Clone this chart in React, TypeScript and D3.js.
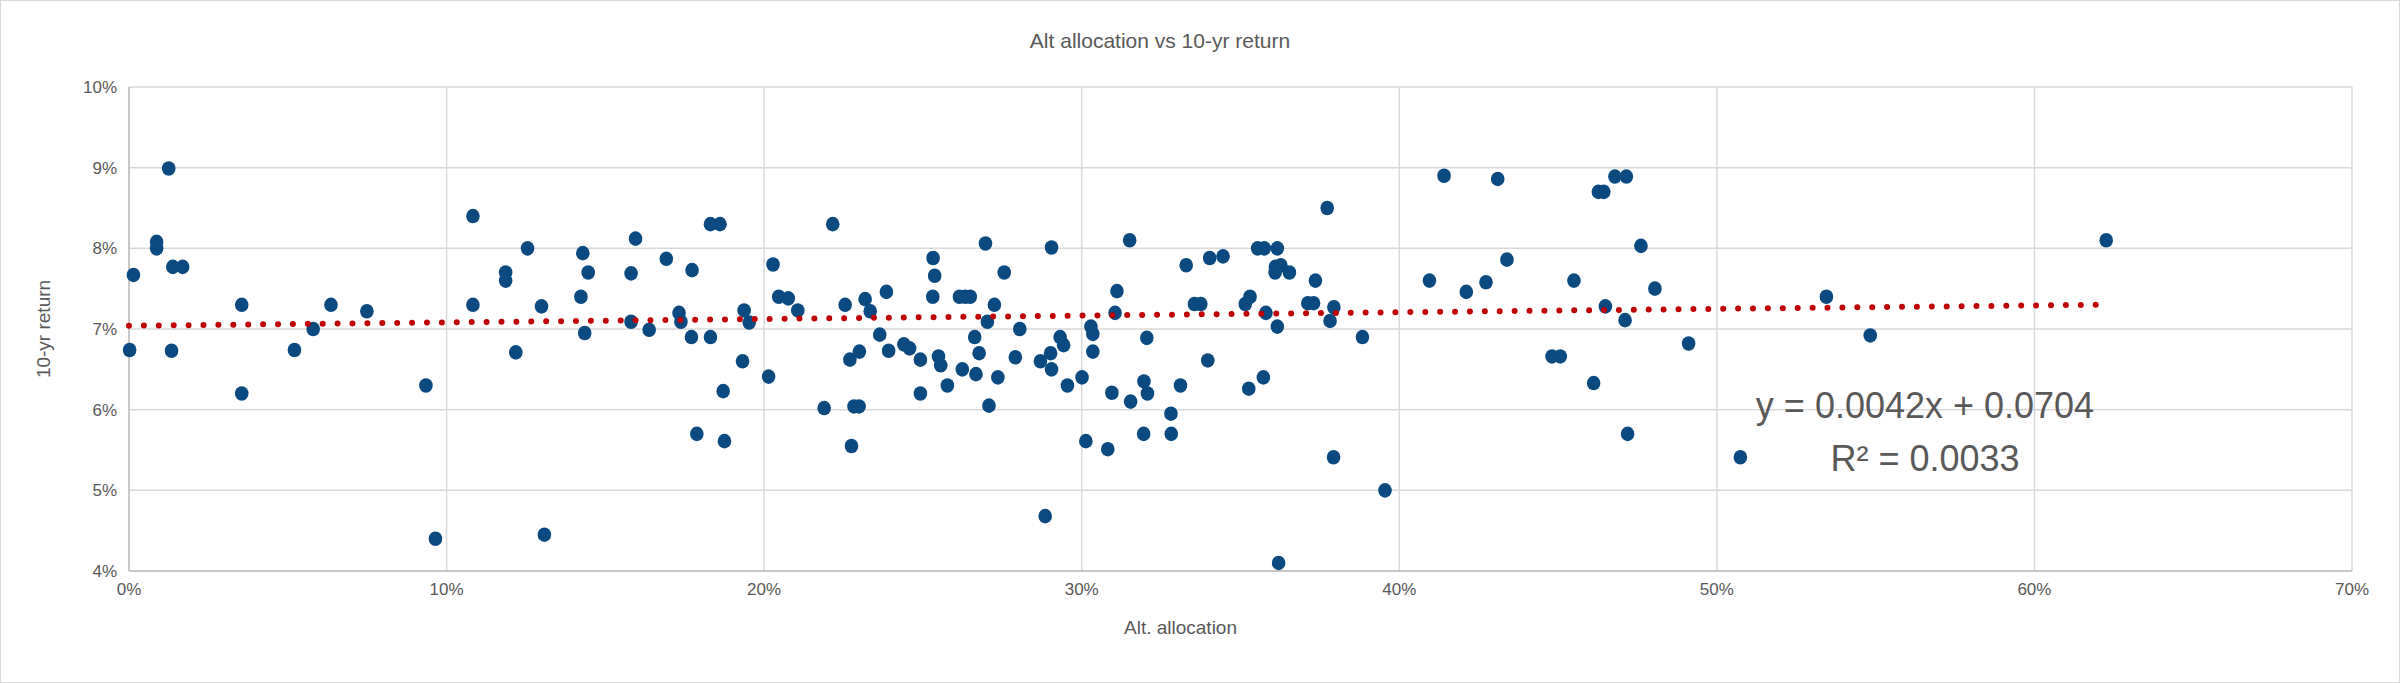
import React from "react";
import * as d3 from "d3";

const allocPct = [
  1.25, 0.87, 0.87, 0.14, 1.38, 1.69, 0.02, 1.34, 3.55, 3.55, 5.21, 5.8, 6.36, 7.49, 9.35, 9.65,
  10.83, 10.83, 11.86, 11.86, 12.55, 12.18, 12.99, 13.08, 14.29, 14.46, 14.23, 14.35, 15.95, 15.81,
  15.81, 16.38, 16.92, 17.73, 17.32, 17.38, 17.71, 17.88,
  18.31, 18.61, 18.31, 18.71, 18.75, 19.37, 19.53, 19.32, 20.14, 20.28, 20.46, 20.76, 21.06, 21.89,
  22.16, 22.55, 22.7, 23.0, 23.18, 23.34, 22.75, 22.83, 22.99, 23.85, 23.64, 23.92, 24.4, 24.58,
  24.92, 24.92, 25.32, 25.37, 25.31, 25.49, 25.56, 25.77, 26.24, 26.15, 26.33, 26.49, 26.63, 26.77,
  26.67, 27.03, 27.25, 26.97, 27.56, 27.36, 27.08, 28.05, 27.91, 28.7, 29.02, 29.05, 29.05, 28.85,
  29.32, 29.43, 29.55, 30.01, 30.29, 30.35, 30.35, 30.13, 30.82, 30.95, 31.11, 31.05, 31.51, 31.54,
  32.05, 31.96, 32.07, 31.95, 32.81, 32.82, 33.11, 33.29, 33.55, 33.75, 33.97, 34.03, 34.45, 35.15,
  35.3, 35.26, 35.72, 35.54, 35.75, 36.16, 36.1, 36.09, 35.8, 36.16, 36.2, 36.27, 36.54,
  37.36, 37.73, 37.12, 37.3, 37.94, 37.82, 37.93, 38.84, 39.55, 40.95, 41.41, 42.11, 42.73, 43.1,
  43.39, 44.81, 45.07, 45.5, 46.12, 46.27, 46.44, 46.79, 47.15, 46.49, 47.11, 47.19, 47.61, 48.05,
  49.11, 50.74, 53.45, 54.83, 62.26,
];
const returnPct = [
  8.99, 8.08, 8.0, 7.67, 7.77, 7.77, 6.74, 6.73, 7.3, 6.2, 6.74, 7.0, 7.3, 7.22, 6.3, 4.4,
  8.4, 7.3, 7.7, 7.6, 8.0, 6.71, 7.28, 4.45, 7.94, 7.7, 7.4, 6.95, 8.12, 7.69,
  7.09, 6.99, 7.87, 7.73, 7.2, 7.09, 6.9, 5.7,
  8.3, 8.3, 6.9, 6.23, 5.61, 7.23, 7.08, 6.6, 6.41, 7.8, 7.4, 7.38, 7.23, 6.02,
  8.3, 7.3, 6.62, 6.72, 7.37, 7.22, 5.55, 6.04, 6.04, 7.46, 6.93, 6.73, 6.81, 6.76,
  6.62, 6.2, 7.88, 7.66, 7.4, 6.66, 6.55, 6.3, 6.5, 7.4, 7.4, 7.4, 6.9, 6.7,
  6.44, 7.09, 7.3, 8.06, 7.7, 6.4, 6.05, 7.0, 6.65, 6.6, 6.7, 6.5, 8.01, 4.68,
  6.9, 6.8, 6.3, 6.4, 7.03, 6.94, 6.72, 5.61, 5.51, 6.21, 7.47, 7.2, 8.1, 6.1,
  6.89, 6.35, 6.2, 5.7, 5.95, 5.7, 6.3, 7.79, 7.31, 7.31, 6.61, 7.88, 7.9, 7.31,
  7.4, 6.26, 6.4, 8.0, 8.0, 8.0, 7.77, 7.7, 7.2, 7.03, 4.1, 7.79, 7.7,
  7.6, 8.5, 7.32, 7.32, 7.27, 7.1, 5.41, 6.9, 5.0, 7.6, 8.9, 7.46, 7.58, 8.86,
  7.86, 6.66, 6.66, 7.6, 6.33, 8.7, 8.7, 8.89, 8.89, 7.28, 7.11, 5.7, 8.03, 7.5,
  6.82, 5.41, 7.4, 6.92, 8.1,
];
const xTicks = [0, 10, 20, 30, 40, 50, 60, 70];
const yTicks = [4, 5, 6, 7, 8, 9, 10];
const trendSlope = 0.0042;
const trendIntercept = 0.0704;
const trendX = [0, 62.26];

export default function App() {
  const W = 2400, H = 683;
  const m = { l: 129, r: 2352, t: 87, b: 571 };
  const x = d3.scaleLinear().domain([0, 70]).range([m.l, m.r]);
  const y = d3.scaleLinear().domain([4, 10]).range([m.b, m.t]);
  const font = "'Liberation Sans', 'Open Sans', sans-serif";
  const trendY = (p: number) => (trendSlope * (p / 100) + trendIntercept) * 100;
  const line = d3.line<number>().x((p) => x(p)).y((p) => y(trendY(p)));
  return (
    <svg width={W} height={H} style={{ position: "absolute", left: 0, top: 0, background: "#fff" }}>
      <rect x={0.5} y={0.5} width={W - 1} height={H - 1} fill="#fff" stroke="#d9d9d9" />
      <text x={W / 2 - 40} y={48} textAnchor="middle" fontFamily={font} fontSize={21} fill="#595959">
        Alt allocation vs 10-yr return
      </text>
      {yTicks.map((t) => (
        <g key={"y" + t}>
          <line x1={m.l} x2={m.r} y1={y(t)} y2={y(t)} stroke="#d9d9d9" strokeWidth={1.5} />
          <text x={m.l - 12} y={y(t) + 6} textAnchor="end" fontFamily={font} fontSize={17} fill="#595959">
            {t}%
          </text>
        </g>
      ))}
      {xTicks.map((t) => (
        <g key={"x" + t}>
          <line x1={x(t)} x2={x(t)} y1={m.t} y2={m.b} stroke="#d9d9d9" strokeWidth={1.5} />
          <text x={x(t)} y={m.b + 24} textAnchor="middle" fontFamily={font} fontSize={17} fill="#595959">
            {t}%
          </text>
        </g>
      ))}
      <line x1={m.l} x2={m.l} y1={m.t} y2={m.b} stroke="#bfbfbf" strokeWidth={1.5} />
      <line x1={m.l} x2={m.r} y1={m.b} y2={m.b} stroke="#bfbfbf" strokeWidth={1.5} />
      <text x={(m.l + m.r) / 2 - 60} y={634} textAnchor="middle" fontFamily={font} fontSize={19} fill="#595959">
        Alt. allocation
      </text>
      <text transform={`translate(50,${(m.t + m.b) / 2}) rotate(-90)`} textAnchor="middle" fontFamily={font} fontSize={19} fill="#595959">
        10-yr return
      </text>
      {allocPct.map((a, i) => (
        <ellipse key={i} cx={x(a)} cy={y(returnPct[i])} rx={6.8} ry={7.3} fill="#0b4a80" />
      ))}
      <path d={line(trendX) || ""} fill="none" stroke="#c00000" strokeWidth={6} strokeLinecap="round" strokeDasharray="0 14.9" />
      <text x={1925} y={418} textAnchor="middle" fontFamily={font} fontSize={36} fill="#595959">
        y = 0.0042x + 0.0704
      </text>
      <text x={1925} y={471} textAnchor="middle" fontFamily={font} fontSize={36} fill="#595959">
        R² = 0.0033
      </text>
    </svg>
  );
}
